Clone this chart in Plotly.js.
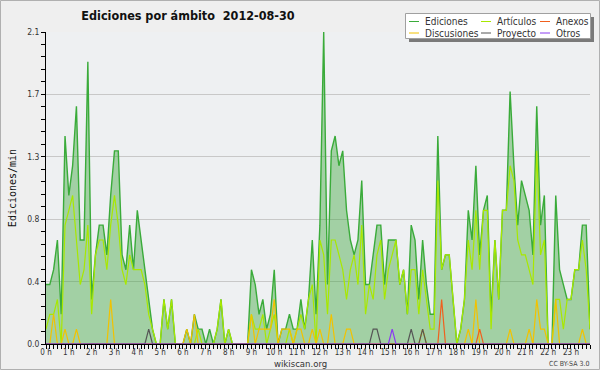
<!DOCTYPE html>
<html>
<head>
<meta charset="utf-8">
<script src="https://cdn.plot.ly/plotly-3.0.1.min.js"></script>
<style>
html,body{margin:0;padding:0;background:#efefef;}
#chart{width:600px;height:370px;}
</style>
</head>
<body>
<div id="chart"></div>
<script>
// values: edits per minute, one per 10-minute slot (00:00 ... 23:50)
const ediciones = [
 0.4,0.4,0.5,0.7,0.2,1.4, 1.0,1.2,1.6,0.7,0.7,1.9, 0.3,0.6,0.8,0.8,0.6,1.0,
 1.3,1.3,0.6,0.5,0.8,0.5, 0.9,0.7,0.5,0.3,0.1,0, 0,0.3,0.1,0.3,0,0,
 0,0.1,0,0.2,0.1,0.1, 0,0.1,0,0.1,0.3,0, 0.1,0,0,0,0,0,
 0.5,0.4,0.2,0.3,0.1,0.2, 0.5,0,0.1,0.1,0.2,0.1, 0.1,0.3,0.1,0.3,0.7,0.2,
 0.8,2.1,0.4,1.3,1.4,1.2, 1.3,0.9,0.7,0.6,0.7,1.1, 0.4,0.4,0.6,0.8,0.8,0.4,
 0.7,0.7,0.7,0.4,0.5,0.2, 0.8,0.7,0.3,0.7,0.4,0.2, 0.2,1.4,0.5,0.6,0.6,0.3,
 0,0.1,0.3,0.9,0.7,1.2, 0.6,0.9,1.0,0.2,0.7,0.3, 0.9,0.9,1.7,1.2,0.8,1.1,
 1.0,0.9,0.6,1.6,0.8,1.0, 0,0,1.0,0.5,0.4,0.3, 0.3,0.5,0.5,0.8,0.8,0.1
];
const articulos = [
 0.1,0.2,0.2,0.3,0,0.8, 0.9,1.0,0.7,0.4,0.5,0.8, 0.2,0.6,0.7,0.7,0.5,0.8,
 1.0,0.8,0.5,0.4,0.6,0.5, 0.5,0.5,0.4,0.2,0.1,0, 0,0.3,0.1,0.3,0,0,
 0,0,0,0,0.1,0, 0,0,0,0.1,0.3,0, 0.1,0,0,0,0,0,
 0.2,0.1,0.1,0.2,0,0.1, 0.2,0,0,0,0.1,0, 0.1,0.2,0.1,0.3,0.4,0,
 0.7,0.6,0.2,0.7,0.7,0.6, 0.5,0.3,0.5,0.6,0.4,0.8, 0.2,0.4,0.3,0.6,0.7,0.3,
 0.5,0.6,0.7,0.4,0.5,0.2, 0.5,0.5,0.2,0.5,0.3,0.1, 0.1,1.1,0.5,0.6,0.6,0.3,
 0,0.1,0.3,0.7,0.5,0.9, 0.5,0.9,0.9,0.1,0.7,0.3, 0.9,0.9,1.2,1.1,0.7,0.6,
 0.6,0.5,0.4,1.3,0.6,0.7, 0,0,0.3,0.3,0.1,0.3, 0.3,0.5,0.5,0.7,0.5,0.1
];
const discusiones = [
 0,0,0.2,0,0,0.1, 0,0,0.1,0,0,0, 0,0,0,0,0,0.3,
 0,0,0,0,0,0, 0,0,0,0,0,0, 0,0,0,0,0,0,
 0,0.1,0,0.2,0,0, 0,0,0,0,0,0, 0,0,0,0,0,0,
 0.2,0,0.1,0.1,0.1,0.1, 0.3,0,0.1,0.1,0.1,0, 0.1,0.1,0,0,0.1,0,
 0.1,0,0,0.2,0,0, 0,0.1,0.1,0,0,0, 0,0,0,0,0,0,
 0,0,0,0,0,0, 0,0,0,0.1,0,0, 0,0,0,0,0,0,
 0,0,0,0.1,0,0.3, 0,0,0,0,0,0, 0,0,0.1,0,0,0,
 0,0.1,0,0.3,0.1,0.1, 0,0,0.3,0,0,0, 0,0,0,0.1,0,0
];
const anexos = [
 0,0,0,0,0,0, 0,0,0,0,0,0, 0,0,0,0,0,0,
 0,0,0,0,0,0, 0,0,0,0,0,0, 0,0,0,0,0,0,
 0,0,0,0,0,0, 0,0,0,0,0,0, 0,0,0,0,0,0,
 0,0,0,0,0,0, 0,0,0,0,0,0, 0,0,0,0,0,0,
 0,0,0,0,0,0, 0,0,0,0,0,0, 0,0,0,0,0,0,
 0,0,0,0,0,0, 0,0,0,0,0,0, 0,0,0.3,0,0,0,
 0,0,0,0,0,0, 0.1,0,0,0,0,0, 0,0,0,0,0,0,
 0,0,0,0,0,0, 0,0,0,0,0,0, 0,0,0,0,0,0
];
const proyecto = [
 0,0,0,0,0,0, 0,0,0,0,0,0, 0,0,0,0,0,0,
 0,0,0,0,0,0, 0,0,0,0.1,0,0, 0,0,0,0,0,0,
 0,0,0,0,0,0, 0,0,0,0,0,0, 0,0,0,0,0,0,
 0,0,0,0,0,0, 0,0,0,0,0,0, 0,0,0,0,0,0,
 0,0,0,0,0,0, 0,0,0,0,0,0, 0,0,0.1,0.1,0,0,
 0,0,0,0,0,0, 0.1,0,0,0.1,0,0, 0,0,0,0,0,0,
 0,0,0,0,0,0, 0,0,0,0,0,0, 0,0,0,0,0,0,
 0,0,0,0,0,0, 0,0,0,0,0,0, 0,0,0,0,0,0
];
const otros = [
 0,0,0,0,0,0, 0,0,0,0,0,0, 0,0,0,0,0,0,
 0,0,0,0,0,0, 0,0,0,0,0,0, 0,0,0,0,0,0,
 0,0,0,0,0,0, 0,0,0,0,0,0, 0,0,0,0,0,0,
 0,0,0,0,0,0, 0,0,0,0,0,0, 0,0,0,0,0,0,
 0,0,0,0,0,0, 0,0,0,0,0,0, 0,0,0,0,0,0,
 0,0.1,0,0,0,0, 0,0,0,0,0,0, 0,0,0,0,0,0,
 0,0,0,0,0,0, 0,0,0,0,0,0, 0,0,0,0,0,0,
 0,0,0,0,0,0, 0,0,0,0,0,0, 0,0,0,0,0,0
];
const hourTicks = [0,1,2,3,4,5,6,7,8,9,10,11,12,13,14,15,16,17,18,19,20,21,22,23];
const hourLabels = ["0 h","1 h","2 h","3 h","4 h","5 h","6 h","7 h","8 h","9 h","10 h","11 h","12 h","13 h","14 h","15 h","16 h","17 h","18 h","19 h","20 h","21 h","22 h","23 h"];
const yTicks = [0, 0.42, 0.84, 1.26, 1.68, 2.1];
const yLabels = ["0.0","0.4","0.8","1.3","1.7","2.1"];
const seriesNames = ["Ediciones","Artículos","Anexos","Discusiones","Proyecto","Otros"];
const seriesColors = ["#3aab3a","#a8e800","#f0601e","#f2c200","#555555","#8a3cf0"];

// time of day in hours for each 10-minute slot
const hours = ediciones.map((_, i) => i / 6);

const FONT = "DejaVu Sans Condensed, DejaVu Sans, sans-serif";
const ML = 46, MR = 10, MT = 32, MB = 26, W = 600, H = 370;
const PW = W - ML - MR, PH = H - MT - MB;
const px = x => (x - ML) / PW;
const py = y => (H - MB - y) / PH;

const seriesData = {
  "Artículos": articulos, "Anexos": anexos, "Discusiones": discusiones,
  "Proyecto": proyecto, "Otros": otros
};

const traces = [{
  x: hours, y: ediciones, type: "scatter", mode: "lines", name: "Ediciones",
  line: {color: seriesColors[0], width: 1.4},
  fill: "tozeroy", fillcolor: "rgba(58,165,58,0.42)"
}];
["Artículos","Discusiones","Anexos","Proyecto","Otros"].forEach(nm => {
  traces.push({
    x: hours, y: seriesData[nm], type: "scatter", mode: "lines", name: nm,
    line: {color: seriesColors[seriesNames.indexOf(nm)], width: 1.2}
  });
});

// legend drawn as a boxed key (3 columns x 2 rows)
const shapes = [
  {type:"rect", xref:"paper", yref:"paper", x0:px(0.5), x1:px(599.5), y0:py(369.5), y1:py(0.5),
   line:{color:"#b0b0b0", width:1}, fillcolor:"rgba(0,0,0,0)"},
  {type:"rect", xref:"paper", yref:"paper", x0:px(409), x1:px(594), y0:py(42), y1:py(17),
   line:{width:0}, fillcolor:"#7a7a7a"},
  {type:"rect", xref:"paper", yref:"paper", x0:px(405.5), x1:px(590.5), y0:py(38.5), y1:py(13.5),
   line:{color:"#a0a0a0", width:1}, fillcolor:"#ffffff"}
];
const annotations = [];
const colX = [409, 481, 540], rowY = [21.5, 33];
seriesNames.forEach((nm, k) => {
  const c = k % 3, r = Math.floor(k / 3);
  shapes.push({type:"line", xref:"paper", yref:"paper", x0:px(colX[c]), x1:px(colX[c] + 10),
    y0:py(rowY[r]), y1:py(rowY[r]), line:{color:seriesColors[k], width:1}});
  annotations.push({xref:"paper", yref:"paper", x:px(colX[c] + 14), y:py(rowY[r]),
    xanchor:"left", yanchor:"middle", showarrow:false, text:nm,
    font:{family:FONT, size:10, color:"#333"}});
});
annotations.push({xref:"paper", yref:"paper", x:px(300), y:py(363), xanchor:"center", yanchor:"middle",
  showarrow:false, text:"wikiscan.org", font:{family:FONT, size:9.5, color:"#333"}});
annotations.push({xref:"paper", yref:"paper", x:px(591), y:py(363.5), xanchor:"right", yanchor:"middle",
  showarrow:false, text:"CC BY-SA 3.0", font:{family:FONT, size:7, color:"#444"}});

const layout = {
  width: W, height: H,
  paper_bgcolor: "#efefef", plot_bgcolor: "#eef0f2",
  margin: {l: ML, r: MR, t: MT, b: MB, pad: 0},
  showlegend: false,
  title: {text: "Ediciones por ámbito\u00a0 2012-08-30", x: 188 / W, xanchor: "center",
          y: 1 - 15.5 / H, yanchor: "middle",
          font: {family: FONT, size: 12.5, color: "#111", weight: "bold"}},
  xaxis: {
    range: [0, hours[hours.length - 1]], tickmode: "array", tickvals: hourTicks, ticktext: hourLabels,
    ticks: "outside", ticklen: 4, tickwidth: 1, tickcolor: "#000", ticklabelstandoff: -4,
    showline: true, linecolor: "#000", linewidth: 1, showgrid: false, zeroline: false,
    tickfont: {family: FONT, size: 8, color: "#333"},
    minor: {tick0: 0, dtick: 1/6, ticks: "outside", ticklen: 4, tickcolor: "#000", showgrid: false},
    automargin: false, fixedrange: true
  },
  yaxis: {
    range: [0, 2.1], tickmode: "array", tickvals: yTicks, ticktext: yLabels,
    ticks: "outside", ticklen: 4, tickwidth: 1, tickcolor: "#000",
    showline: true, linecolor: "#000", linewidth: 1,
    showgrid: true, gridcolor: "#c8c8c8", gridwidth: 1, zeroline: false,
    tickfont: {family: FONT, size: 8.5, color: "#333"},
    minor: {tick0: 0, dtick: 0.084, ticks: "outside", ticklen: 4, tickcolor: "#000", showgrid: false},
    title: {text: "Ediciones/min", font: {family: "DejaVu Sans Mono, monospace", size: 10, color: "#111"}, standoff: 8},
    automargin: false, fixedrange: true
  },
  shapes: shapes,
  annotations: annotations
};

Plotly.newPlot("chart", traces, layout, {displayModeBar: false, staticPlot: true});
</script>
</body>
</html>
